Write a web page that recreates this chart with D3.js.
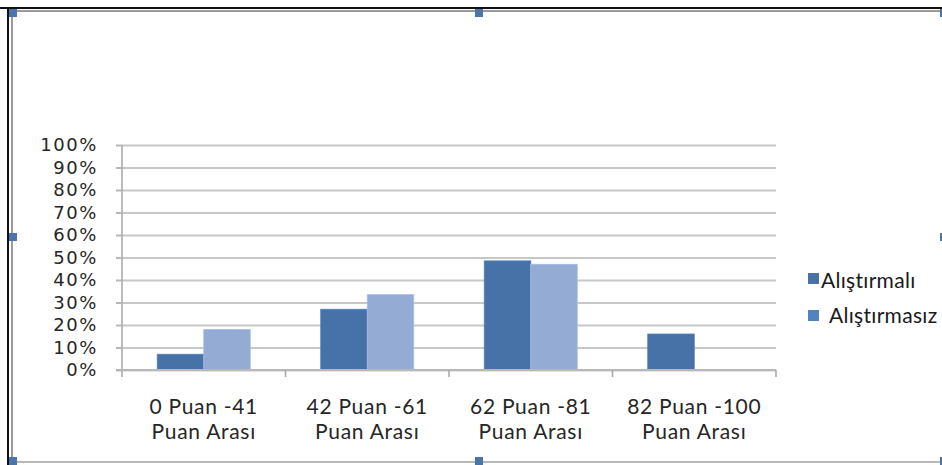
<!DOCTYPE html>
<html>
<head>
<meta charset="utf-8">
<script src="https://cdn.jsdelivr.net/npm/d3@7"></script>
<style>
  html, body { margin: 0; padding: 0; background: #fff; }
  svg { display: block; }
</style>
</head>
<body>
<svg id="chart" width="942" height="465"></svg>
<script>
// Score bands (two text lines each)
const categories = ["0 Puan -41|Puan Arası", "42 Puan -61|Puan Arası", "62 Puan -81|Puan Arası", "82 Puan -100|Puan Arası"];
const seriesNames = ["Alıştırmalı", "Alıştırmasız"];
// share of students in each band
const alistirmali = [0.07, 0.27, 0.485, 0.16];
const alistirmasiz = [0.18, 0.335, 0.47, 0];
const yTicks = [0, 0.1, 0.2, 0.3, 0.4, 0.5, 0.6, 0.7, 0.8, 0.9, 1.0];

const barColors = ["#4672a7", "#94abd3"];
const legendColors = ["#4672a7", "#5282c0"];

const svg = d3.select("#chart");
const W = 942, H = 465;

svg.append("rect").attr("width", W).attr("height", H).attr("fill", "#fff");

// ---- plot area ----
const plot = { left: 122, right: 776, top: 145, bottom: 370 };

const x = d3.scaleBand().domain(categories).range([plot.left, plot.right]).padding(0);
const xs = d3.scaleBand().domain(seriesNames).range([0, x.bandwidth()])
  .paddingInner(0).paddingOuter(0.758);
const y = d3.scaleLinear().domain([0, 1]).range([plot.bottom, plot.top]);

// horizontal gridlines
svg.append("g")
  .attr("transform", `translate(${plot.left},0)`)
  .call(d3.axisLeft(y).tickValues(yTicks).tickSize(-(plot.right - plot.left)).tickFormat(""))
  .call(g => g.select(".domain").remove())
  .call(g => g.selectAll("line").attr("stroke", "#c8c8c8").attr("stroke-width", 2));

// y axis with ticks and percentage labels
svg.append("g")
  .attr("transform", `translate(${plot.left},0)`)
  .call(d3.axisLeft(y).tickValues(yTicks).tickSize(6).tickSizeOuter(0).tickPadding(18)
    .tickFormat(d3.format(".0%")))
  .call(g => g.select(".domain").attr("stroke", "#a6a6a6").attr("stroke-width", 1.5)
    .attr("d", `M0,${plot.top}V${plot.bottom + 7}`))
  .call(g => g.selectAll("line").attr("stroke", "#b8b8b8").attr("stroke-width", 2))
  .call(g => g.selectAll("text")
    .attr("fill", "#262626")
    .style("font-family", "'DejaVu Sans', Verdana, sans-serif")
    .style("font-size", "18px")
    .style("letter-spacing", "1.6px"));

// bars
const data = categories.map((c, i) => ({ cat: c, values: [alistirmali[i], alistirmasiz[i]] }));
const groups = svg.append("g").selectAll("g").data(data).join("g")
  .attr("transform", d => `translate(${x(d.cat)},0)`);
groups.selectAll("rect")
  .data(d => d.values.map((v, k) => ({ name: seriesNames[k], v, k })))
  .join("rect")
  .attr("x", d => xs(d.name))
  .attr("width", xs.bandwidth())
  .attr("y", d => y(d.v))
  .attr("height", d => y(0) - y(d.v))
  .attr("fill", d => barColors[d.k])
  .attr("stroke", d => d.v > 0 ? d3.color(barColors[d.k]).brighter(0.3) : "none")
  .attr("stroke-width", 0.8);

// category axis baseline and boundary ticks
const bounds = categories.map(c => x(c)).concat([plot.right]);
svg.append("line")
  .attr("x1", plot.left - 6).attr("x2", plot.right)
  .attr("y1", y(0)).attr("y2", y(0))
  .attr("stroke", "#b8b8b8").attr("stroke-width", 2);
svg.append("g").selectAll("line").data(bounds.slice(1)).join("line")
  .attr("x1", d => d).attr("x2", d => d)
  .attr("y1", y(0)).attr("y2", y(0) + 7)
  .attr("stroke", "#a6a6a6").attr("stroke-width", 1.5);

// category labels
const catLabels = svg.append("g")
  .style("font-family", "Lato, 'Open Sans', sans-serif")
  .style("font-size", "21px")
  .style("letter-spacing", "0.7px")
  .attr("fill", "#262626")
  .attr("text-anchor", "middle");
catLabels.selectAll("text").data(categories).join("text")
  .attr("x", d => x(d) + x.bandwidth() / 2)
  .attr("y", 414)
  .each(function (d) {
    const lines = d.split("|");
    d3.select(this).selectAll("tspan").data(lines).join("tspan")
      .attr("x", x(d) + x.bandwidth() / 2)
      .attr("dy", (l, i) => i === 0 ? 0 : 25)
      .text(l => l);
  });

// legend
const legendRows = [
  { name: seriesNames[0], sq: [808, 273], tx: 821, base: 288 },
  { name: seriesNames[1], sq: [808, 310], tx: 829, base: 323 }
];
const leg = svg.append("g")
  .style("font-family", "Lato, 'Open Sans', sans-serif")
  .style("font-size", "21px")
  .style("letter-spacing", "0.3px");
leg.selectAll("rect").data(legendRows).join("rect")
  .attr("x", d => d.sq[0]).attr("y", d => d.sq[1])
  .attr("width", 11).attr("height", 11)
  .attr("fill", (d, i) => legendColors[i]);
leg.selectAll("text").data(legendRows).join("text")
  .attr("x", d => d.tx).attr("y", d => d.base)
  .attr("fill", "#1a1a1a")
  .text(d => d.name);

// ---- surrounding frame and selection handles ----
svg.append("line").attr("x1", 0).attr("x2", W).attr("y1", 8).attr("y2", 8)
  .attr("stroke", "#111").attr("stroke-width", 2);
svg.append("line").attr("x1", 8).attr("x2", 8).attr("y1", 8).attr("y2", H)
  .attr("stroke", "#111").attr("stroke-width", 2);
svg.append("line").attr("x1", 12).attr("x2", W).attr("y1", 11).attr("y2", 11)
  .attr("stroke", "#9a9a9a").attr("stroke-width", 2);
svg.append("line").attr("x1", 12).attr("x2", 12).attr("y1", 11).attr("y2", H)
  .attr("stroke", "#9a9a9a").attr("stroke-width", 2);
svg.append("line").attr("x1", 12).attr("x2", W).attr("y1", 462).attr("y2", 462)
  .attr("stroke", "#a0a0a0").attr("stroke-width", 1.5);

const handles = [
  [9, 9], [475, 9], [940, 9],
  [9, 233], [940, 233],
  [9, 457], [475, 457], [940, 457]
];
svg.append("g").selectAll("rect").data(handles).join("rect")
  .attr("x", d => d[0]).attr("y", d => d[1])
  .attr("width", 8).attr("height", 8)
  .attr("fill", "#4a74aa");
</script>
</body>
</html>
